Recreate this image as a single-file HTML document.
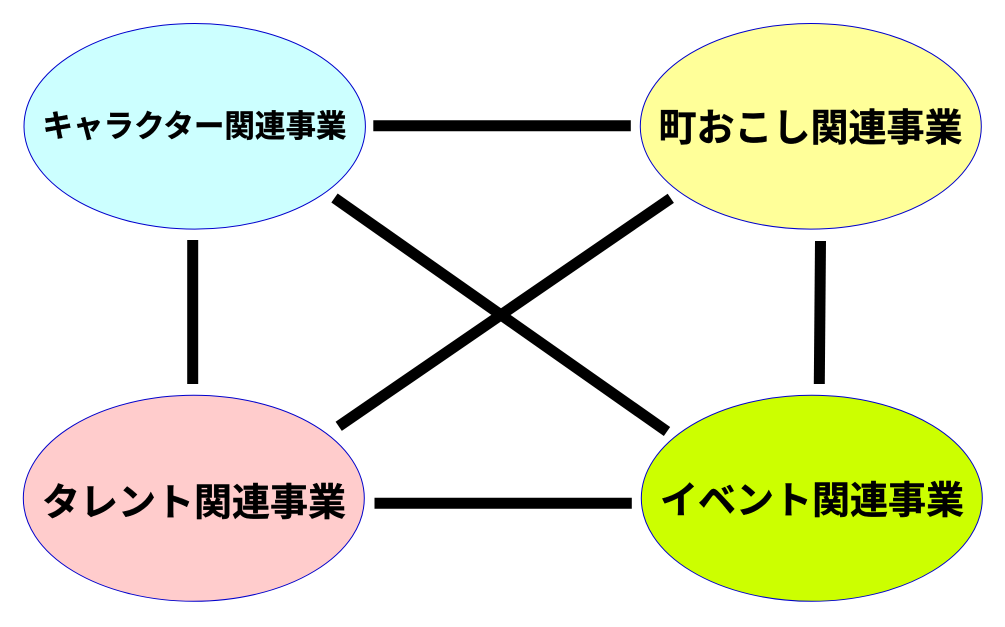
<!DOCTYPE html>
<html><head><meta charset="utf-8"><style>html,body{margin:0;padding:0;background:#fff}svg{display:block}text{font-family:"Liberation Sans","Noto Sans CJK JP",sans-serif;font-weight:700;fill:#000;stroke:#000;stroke-width:.4px;text-anchor:middle}</style></head>
<body><svg width="1005" height="627" viewBox="0 0 1005 627">
<rect width="1005" height="627" fill="#fff"/>
<ellipse cx="194.700" cy="126.300" rx="170.700" ry="102.800" fill="#ccffff" stroke="#0000cc" stroke-width="1"/>
<ellipse cx="810.800" cy="126.300" rx="170.500" ry="102.800" fill="#ffff99" stroke="#0000cc" stroke-width="1"/>
<ellipse cx="193.800" cy="498.300" rx="170.500" ry="103" fill="#ffcccc" stroke="#0000cc" stroke-width="1"/>
<ellipse cx="811.800" cy="498.300" rx="170.500" ry="103" fill="#ccff00" stroke="#0000cc" stroke-width="1"/>
<g stroke="#000" fill="none">
<line x1="373.300" y1="125.800" x2="630.800" y2="125.800" stroke-width="11"/>
<line x1="374.500" y1="503.300" x2="631.800" y2="503.300" stroke-width="11"/>
<line x1="192.700" y1="240" x2="192.700" y2="384" stroke-width="11"/>
<line x1="820.500" y1="241" x2="819.300" y2="384" stroke-width="11"/>
<line x1="334.500" y1="198" x2="667" y2="431.500" stroke-width="11"/>
<line x1="670.800" y1="198.300" x2="338.700" y2="426.300" stroke-width="11"/>
</g>
<text x="194.500" y="137" font-size="31" textLength="304" lengthAdjust="spacingAndGlyphs">キャラクター関連事業</text>
<text x="810.500" y="141" font-size="38" textLength="304" lengthAdjust="spacingAndGlyphs">町おこし関連事業</text>
<text x="194" y="515.500" font-size="38" textLength="304" lengthAdjust="spacingAndGlyphs">タレント関連事業</text>
<text x="812" y="513.500" font-size="38" textLength="304" lengthAdjust="spacingAndGlyphs">イベント関連事業</text>
</svg></body></html>
